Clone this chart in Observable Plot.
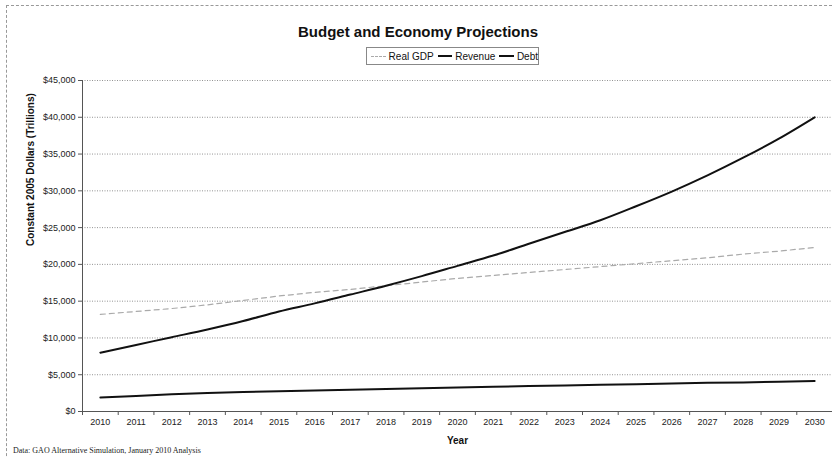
<!DOCTYPE html>
<html>
<head>
<meta charset="utf-8">
<script src="https://cdn.jsdelivr.net/npm/d3@7"></script>
<script src="https://cdn.jsdelivr.net/npm/@observablehq/plot@0.6"></script>
<style>
  html, body { margin: 0; padding: 0; background: #fff; }
  #wrap { position: relative; width: 832px; height: 457px; overflow: hidden; font-family: "Liberation Sans", Arial, sans-serif; }
  #frame { position: absolute; left: 6px; top: 5px; width: 840px; height: 470px; border-top: 1px dashed #999; border-left: 1px dashed #999; }
  #title { position: absolute; left: 0; width: 836px; top: 23px; text-align: center; font-weight: bold; font-size: 15px; color: #111; }
  #legend { position: absolute; left: 366px; top: 47px; width: 171px; height: 16px; border: 1px solid #888; display: flex; align-items: center; justify-content: center; font-size: 10px; color: #111; white-space: nowrap; }
  #legend .sw { display: inline-block; width: 20px; height: 0; margin: 0 3px 0 4px; }
  #chart { position: absolute; left: 0; top: 70px; }
  #caption { position: absolute; left: 13px; top: 446px; font-family: "Liberation Serif", "Times New Roman", serif; font-size: 8px; color: #222; white-space: nowrap; }
</style>
</head>
<body>
<div id="wrap">
  <div id="frame"></div>
  <div id="title">Budget and Economy Projections</div>
  <div id="legend">
    <span class="sw" style="border-top:1px dashed #aaa"></span><span>Real GDP</span>
    <span class="sw" style="border-top:2px solid #111"></span><span>Revenue</span>
    <span class="sw" style="border-top:2px solid #111"></span><span>Debt</span>
  </div>
  <div id="chart"></div>
  <div id="caption">Data: GAO Alternative Simulation, January 2010 Analysis</div>
</div>
<script>
const years = [2010, 2011, 2012, 2013, 2014, 2015, 2016, 2017, 2018, 2019, 2020,
               2021, 2022, 2023, 2024, 2025, 2026, 2027, 2028, 2029, 2030];
const realGDP = [13200, 13600, 14000, 14500, 15100, 15700, 16200, 16600, 17100, 17600, 18100,
                 18500, 18900, 19300, 19700, 20100, 20500, 20900, 21400, 21800, 22300];
const revenue = [1900, 2100, 2350, 2500, 2650, 2750, 2850, 2950, 3050, 3150, 3250,
                 3350, 3450, 3550, 3650, 3700, 3800, 3900, 3950, 4050, 4150];
const debt = [8000, 9050, 10100, 11150, 12300, 13600, 14700, 15900, 17100, 18400, 19800,
              21200, 22800, 24400, 26000, 27900, 29900, 32100, 34500, 37100, 40000];
const yTicks = [0, 5000, 10000, 15000, 20000, 25000, 30000, 35000, 40000, 45000];
const xBounds = [2009.5, 2010.5, 2011.5, 2012.5, 2013.5, 2014.5, 2015.5, 2016.5, 2017.5, 2018.5, 2019.5,
                 2020.5, 2021.5, 2022.5, 2023.5, 2024.5, 2025.5, 2026.5, 2027.5, 2028.5, 2029.5, 2030.5];

const rows = (vals, series) => years.map((y, i) => ({year: y, value: vals[i], series}));
const gdpRows = rows(realGDP, "Real GDP");
const revRows = rows(revenue, "Revenue");
const debtRows = rows(debt, "Debt");

const chart = Plot.plot({
  width: 832,
  height: 378,
  marginTop: 10,
  marginLeft: 82,
  marginRight: 0,
  marginBottom: 37,
  style: {fontFamily: "'Liberation Sans', Arial, sans-serif", fontSize: "9px", color: "#222", background: "transparent"},
  x: {domain: [2009.5, 2030.5], axis: null},
  y: {domain: [0, 45000], axis: null},
  marks: [
    Plot.ruleY(yTicks.filter(d => d > 0), {stroke: "#777", strokeDasharray: "1,1.5", strokeWidth: 0.8}),
    Plot.axisY({ticks: yTicks, tickSize: 4, tickPadding: 3, tickFormat: d => "$" + d3.format(",")(d), label: null, stroke: "#555", fontSize: 9}),
    Plot.ruleX([2009.5], {stroke: "#555", strokeWidth: 1}),
    Plot.ruleY([0], {stroke: "#555", strokeWidth: 1}),
    Plot.axisX({ticks: xBounds, tickSize: 4, tickFormat: () => "", label: null, stroke: "#555"}),
    Plot.axisX({ticks: years, tickSize: 0, tickPadding: 7, tickFormat: d => String(d), label: null, fontSize: 9}),
    Plot.line(gdpRows, {x: "year", y: "value", stroke: "#aaa", strokeWidth: 1.2, strokeDasharray: "5,4"}),
    Plot.line(revRows, {x: "year", y: "value", stroke: "#111", strokeWidth: 2}),
    Plot.line(debtRows, {x: "year", y: "value", stroke: "#111", strokeWidth: 2, curve: "monotone-x"}),
    Plot.text(["Constant 2005 Dollars (Trillions)"], {frameAnchor: "left", rotate: -90, dx: -52, fontWeight: "bold", fontSize: 10, fill: "#111"}),
    Plot.text(["Year"], {frameAnchor: "bottom", dy: 32, fontWeight: "bold", fontSize: 10, fill: "#111"})
  ]
});
document.getElementById("chart").appendChild(chart);
</script>
</body>
</html>
